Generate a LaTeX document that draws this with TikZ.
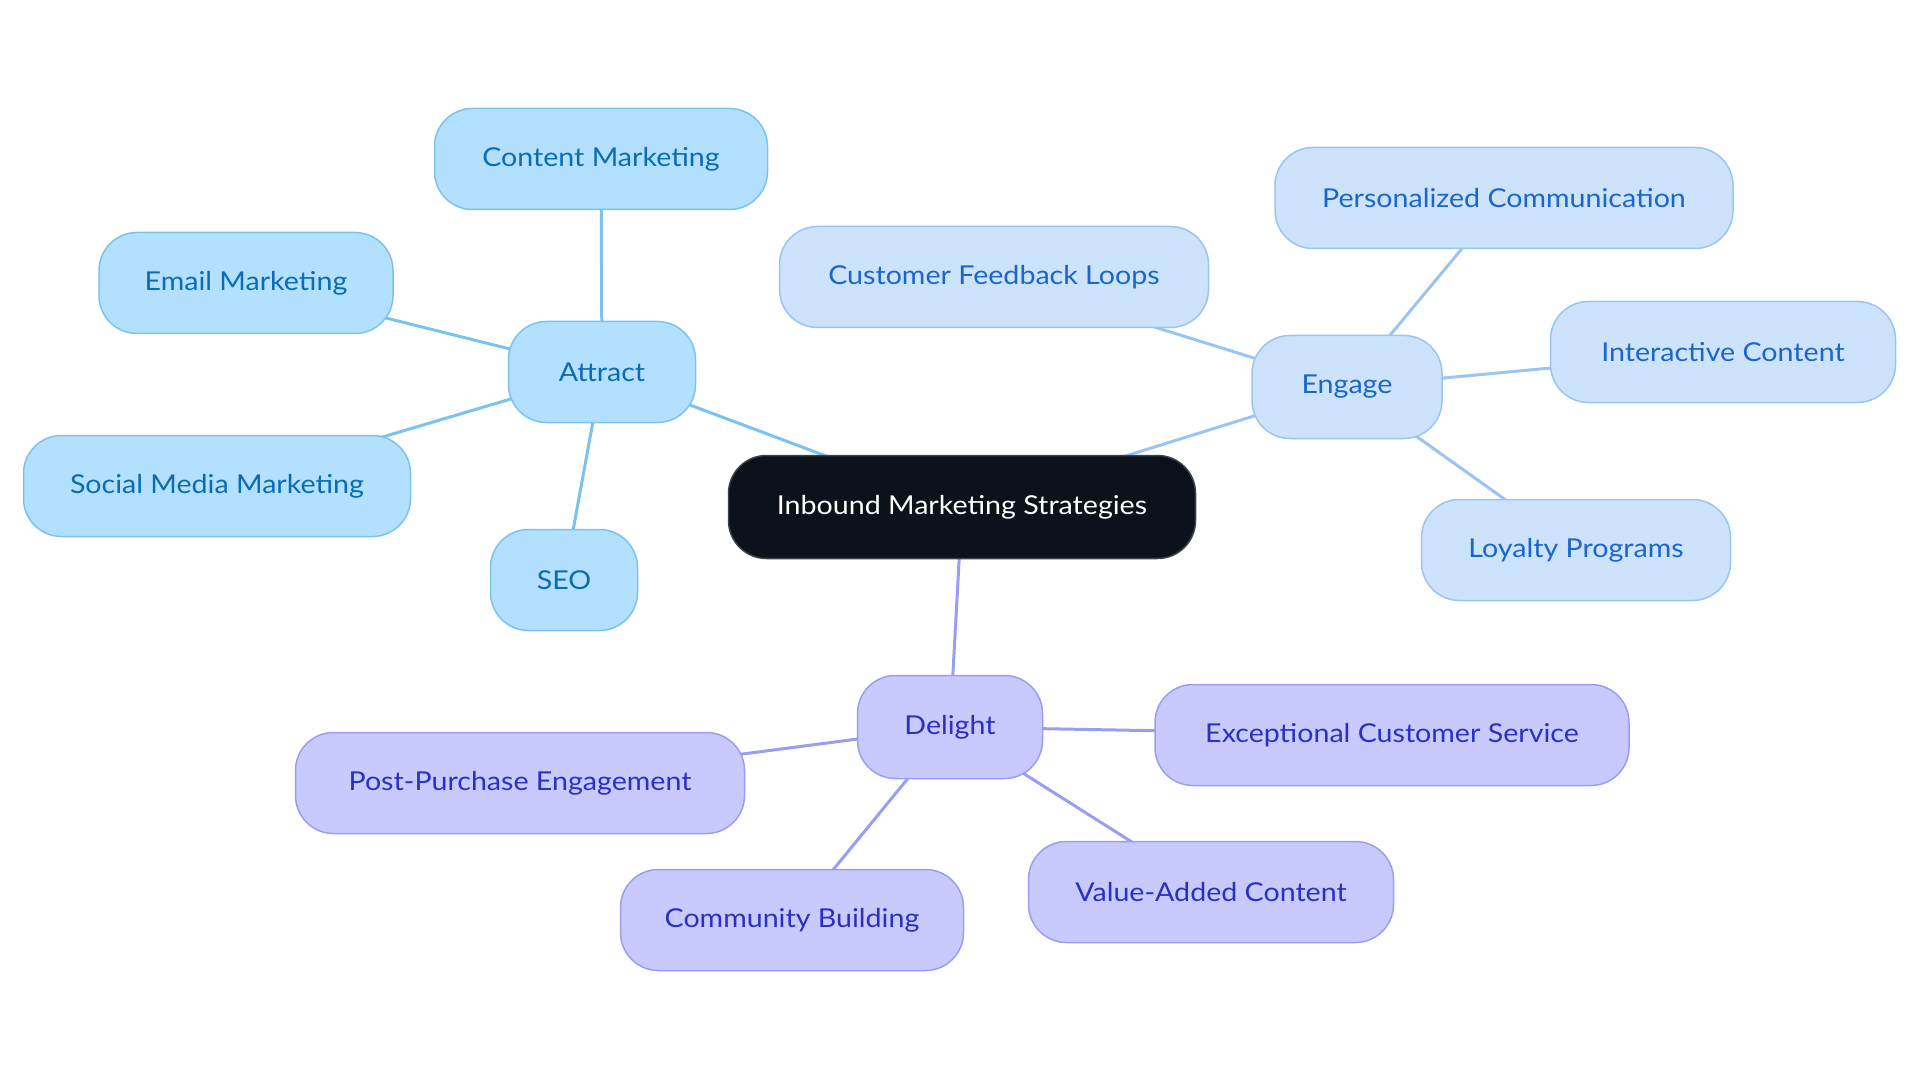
\documentclass[tikz,border=0pt]{standalone}
\usepackage{fontspec}
\setmainfont{Lato}[FakeStretch=1.1]
\definecolor{afill}{HTML}{B3E0FE}
\definecolor{aline}{HTML}{7CC2EF}
\definecolor{atext}{HTML}{0A6CB5}
\definecolor{efill}{HTML}{CDE3FB}
\definecolor{eline}{HTML}{9AC5F2}
\definecolor{etext}{HTML}{1A66CC}
\definecolor{dfill}{HTML}{C8CAFD}
\definecolor{dline}{HTML}{9A9EF2}
\definecolor{dtext}{HTML}{2B2FC4}
\definecolor{cfill}{HTML}{0C121B}
\definecolor{cline}{HTML}{3C4147}
\pgfdeclarelayer{bg}
\pgfsetlayers{bg,main}
\tikzset{
  box/.style={rounded corners=38pt, line width=1.5pt, minimum height=101pt, inner sep=0pt, font=\fontsize{26}{31}\selectfont, anchor=center},
  anode/.style={box, fill=afill, draw=aline, text=atext},
  enode/.style={box, fill=efill, draw=eline, text=etext},
  dnode/.style={box, fill=dfill, draw=dline, text=dtext},
  cnode/.style={box, fill=cfill, draw=cline, text=white},
  aedge/.style={draw=aline, line width=3pt},
  eedge/.style={draw=eline, line width=3pt},
  dedge/.style={draw=dline, line width=3pt},
}
\begin{document}
\begin{tikzpicture}[x=1pt,y=-1pt]
\useasboundingbox (0,0) rectangle (1920,1083);
% nodes
\node[cnode, minimum width=467pt, minimum height=103pt] (c) at (962,507) {Inbound Marketing Strategies};
\node[anode, minimum width=187pt] (at) at (602,372) {Attract};
\node[enode, minimum width=190pt, minimum height=103pt] (en) at (1347,387) {Engage};
\node[dnode, minimum width=185pt, minimum height=103pt] (de) at (950,727) {Delight};
\node[anode, minimum width=333pt] (cm) at (601,159) {Content Marketing};
\node[anode, minimum width=294pt] (em) at (246,283) {Email Marketing};
\node[anode, minimum width=387pt] (sm) at (217,486) {Social Media Marketing};
\node[anode, minimum width=147pt] (seo) at (564,580) {SEO};
\node[enode, minimum width=429pt] (cf) at (994,277) {Customer Feedback Loops};
\node[enode, minimum width=458pt] (pc) at (1504,198) {Personalized Communication};
\node[enode, minimum width=345pt] (ic) at (1723,352) {Interactive Content};
\node[enode, minimum width=309pt] (lp) at (1576,550) {Loyalty Programs};
\node[dnode, minimum width=474pt] (ecs) at (1392,735) {Exceptional Customer Service};
\node[dnode, minimum width=449pt] (ppe) at (520,783) {Post-Purchase Engagement};
\node[dnode, minimum width=343pt] (cb) at (792,920) {Community Building};
\node[dnode, minimum width=365pt] (vac) at (1211,892) {Value-Added Content};
% edges behind nodes
\begin{pgfonlayer}{bg}
\draw[aedge] (c.center) -- (at.center);
\draw[eedge] (c.center) -- (en.center);
\draw[dedge] (c.center) -- (de.center);
\draw[aedge] (at.center) -- (cm.center);
\draw[aedge] (at.center) -- (em.center);
\draw[aedge] (at.center) -- (sm.center);
\draw[aedge] (at.center) -- (seo.center);
\draw[eedge] (en.center) -- (cf.center);
\draw[eedge] (en.center) -- (pc.center);
\draw[eedge] (en.center) -- (ic.center);
\draw[eedge] (en.center) -- (lp.center);
\draw[dedge] (de.center) -- (ecs.center);
\draw[dedge] (de.center) -- (ppe.center);
\draw[dedge] (de.center) -- (cb.center);
\draw[dedge] (de.center) -- (vac.center);
\end{pgfonlayer}
\end{tikzpicture}
\end{document}
